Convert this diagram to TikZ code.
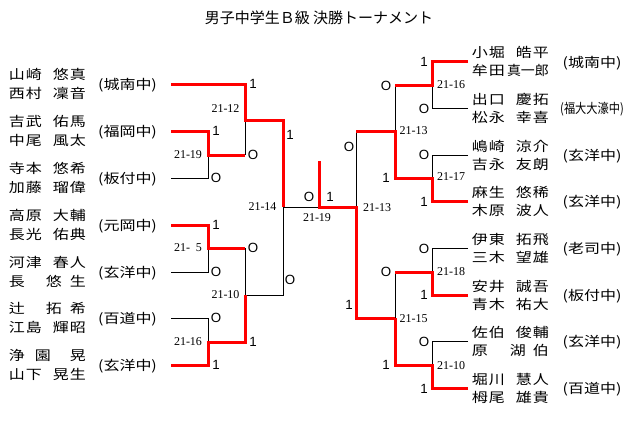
\documentclass[tikz,border=0pt]{standalone}
\usepackage{fontspec}
\usepackage{graphicx}
\setmainfont{Liberation Sans}
\newfontfamily\jpfont{Noto Sans CJK JP}
\newfontfamily\jpwide[FakeStretch=1.2]{Noto Sans CJK JP}
\newfontfamily\serfont{Liberation Serif}
\newlength\px \setlength\px{0.75pt}
\newcommand\at[2]{\makebox[0pt][l]{\hspace*{#1\px}\makebox[0pt][c]{#2}}}
\newcommand\four[4]{\at{16}{#1}\at{33}{#2}\at{60}{#3}\at{77}{#4}}
\newcommand\namefont{\jpwide\fontsize{10pt}{12pt}\selectfont}
\newcommand\resfont{\fontsize{10pt}{12pt}\selectfont}
\newcommand\scorefont{\serfont\fontsize{9pt}{10pt}\selectfont}
\newcommand\titlefont{\jpfont\fontsize{11.25pt}{13pt}\selectfont}
\begin{document}
\begin{tikzpicture}[x=0.75pt,y=-0.75pt,
  win/.style={draw=red,line width=2.25pt},
  lose/.style={draw=black,line width=0.75pt},
  nm/.style={anchor=west,inner sep=0pt,font=\namefont,text height=8.8pt,text depth=1.2pt},
  school/.style={inner sep=0pt,font=\namefont,text height=8.8pt,text depth=1.2pt},
  res/.style={inner sep=0pt,font=\resfont},
  score/.style={inner sep=0pt,font=\scorefont},
  ttl/.style={inner sep=0pt,font=\titlefont,text height=9.9pt,text depth=1.35pt}]
\useasboundingbox[fill=white] (0,0) rectangle (640,437);

\node[ttl] (title) at (319,18) {男子中学生Ｂ級 決勝トーナメント};

% ---------- left names ----------
\node[nm] (n1a) at (0,74.7) {\four{山}{崎}{悠}{真}};
\node[nm] (n1b) at (0,93.3) {\four{西}{村}{凜}{音}};
\node[nm] (n2a) at (0,121.7) {\four{吉}{武}{佑}{馬}};
\node[nm] (n2b) at (0,140.3) {\four{中}{尾}{風}{太}};
\node[nm] (n3a) at (0,168.7) {\four{寺}{本}{悠}{希}};
\node[nm] (n3b) at (0,187.3) {\four{加}{藤}{瑠}{偉}};
\node[nm] (n4a) at (0,215.7) {\four{高}{原}{大}{輔}};
\node[nm] (n4b) at (0,234.3) {\four{長}{光}{佑}{典}};
\node[nm] (n5a) at (0,262.7) {\four{河}{津}{春}{人}};
\node[nm] (n5b) at (0,281.3) {\at{16}{長}\at{53}{悠}\at{77}{生}};
\node[nm] (n6a) at (0,308.7) {\at{16}{辻}\at{53}{拓}\at{77}{希}};
\node[nm] (n6b) at (0,327.3) {\four{江}{島}{輝}{昭}};
\node[nm] (n7a) at (0,355.7) {\at{16}{浄}\at{42}{園}\at{77}{晃}};
\node[nm] (n7b) at (0,374.3) {\four{山}{下}{晃}{生}};

\node[school] (s1) at (127.5,84) {(城南中)};
\node[school] (s2) at (127.5,131) {(福岡中)};
\node[school] (s3) at (127.5,178) {(板付中)};
\node[school] (s4) at (127.5,225) {(元岡中)};
\node[school] (s5) at (127.5,272) {(玄洋中)};
\node[school] (s6) at (127.5,318) {(百道中)};
\node[school] (s7) at (127.5,365) {(玄洋中)};

% ---------- right names ----------
\node[nm] (m1a) at (463,52.5) {\four{小}{堀}{皓}{平}};
\node[nm] (m1b) at (463,70.5) {\at{16}{牟}\at{33}{田}\at{64}{\scalebox{0.87}[1]{真一郎}}};
\node[nm] (m2a) at (463,99.5) {\four{出}{口}{慶}{拓}};
\node[nm] (m2b) at (463,117.5) {\four{松}{永}{幸}{喜}};
\node[nm] (m3a) at (463,146) {\four{嶋}{崎}{涼}{介}};
\node[nm] (m3b) at (463,164) {\four{吉}{永}{友}{朗}};
\node[nm] (m4a) at (463,192.5) {\four{麻}{生}{悠}{稀}};
\node[nm] (m4b) at (463,210.5) {\four{木}{原}{波}{人}};
\node[nm] (m5a) at (463,239.5) {\four{伊}{東}{拓}{飛}};
\node[nm] (m5b) at (463,257.5) {\four{三}{木}{望}{雄}};
\node[nm] (m6a) at (463,286) {\four{安}{井}{誠}{吾}};
\node[nm] (m6b) at (463,304) {\four{青}{木}{祐}{大}};
\node[nm] (m7a) at (463,332.5) {\four{佐}{伯}{俊}{輔}};
\node[nm] (m7b) at (463,350.5) {\at{16}{原}\at{54}{湖}\at{77}{伯}};
\node[nm] (m8a) at (463,379.5) {\four{堀}{川}{慧}{人}};
\node[nm] (m8b) at (463,397.5) {\four{栂}{尾}{雄}{貴}};

\node[school] (t1) at (592,62) {(城南中)};
\node[school] (t2) at (592,108.5) {\scalebox{0.7}[1]{(福大大濠中)}};
\node[school] (t3) at (592,155) {(玄洋中)};
\node[school] (t4) at (592,201.5) {(玄洋中)};
\node[school] (t5) at (592,248.5) {(老司中)};
\node[school] (t6) at (592,295) {(板付中)};
\node[school] (t7) at (592,341.5) {(玄洋中)};
\node[school] (t8) at (592,388.5) {(百道中)};

% ---------- bracket points ----------
\coordinate (L1) at (171,84);
\coordinate (L2) at (171,131);
\coordinate (L3) at (171,178);
\coordinate (L4) at (171,225);
\coordinate (L5) at (171,272);
\coordinate (L6) at (171,318);
\coordinate (L7) at (171,365);
\coordinate (R1) at (468,61.5);
\coordinate (R2) at (468,108.5);
\coordinate (R3) at (468,155);
\coordinate (R4) at (468,201.5);
\coordinate (R5) at (468,248.5);
\coordinate (R6) at (468,295);
\coordinate (R7) at (468,341.5);
\coordinate (R8) at (468,388.5);
\coordinate (ma) at (208,155);
\coordinate (mb) at (245,120);
\coordinate (mc) at (208,248);
\coordinate (md) at (208,342);
\coordinate (me) at (245,295);
\coordinate (mf) at (283,207);
\coordinate (fz) at (319,207);
\coordinate (champ) at (319,161);
\coordinate (mg) at (356,207);
\coordinate (mh) at (395,131);
\coordinate (mi) at (432,85.5);
\coordinate (mj) at (432,178);
\coordinate (mk) at (395,318);
\coordinate (ml) at (432,272);
\coordinate (mm) at (432,365);

% losers (black)
\draw[lose] (L3) -| (ma);
\draw[lose] (ma -| mb) -- (mb);
\draw[lose] (L5) -| (mc);
\draw[lose] (mc -| me) -- (me);
\draw[lose] (L6) -| (md);
\draw[lose] (me) -- (me -| mf) -- (mf) -- (fz);
\draw[lose] (R2) -| (mi);
\draw[lose] (mi -| mh) -- (mh);
\draw[lose] (R3) -| (mj);
\draw[lose] (mh -| mg) -- (mg);
\draw[lose] (R5) -| (ml);
\draw[lose] (ml -| mk) -- (mk);
\draw[lose] (R7) -| (mm);

% winners (red)
\draw[win] (L2) -| (ma) -- (ma -| mb);
\draw[win] (L1) -| (mb) -- (mb -| mf) -- (mf);
\draw[win] (L4) -| (mc) -- (mc -| me);
\draw[win] (L7) -| (md) -- (md -| me) -- (me);
\draw[win] (champ) -- (fz) -- (mg) -- (mg |- mk) -- (mk);
\draw[win] (R1) -| (mi) -- (mi -| mh);
\draw[win] (R4) -| (mj) -- (mj -| mh) -- (mh) -- (mh -| mg);
\draw[win] (R6) -| (ml) -- (ml -| mk);
\draw[win] (R8) -| (mm) -- (mm -| mk) -- (mk);

% ---------- results ----------
\node[res] (a1) at (216,131) {1};
\node[res] (a2) at (216,178) {O};
\node[res] (b1) at (253,84) {1};
\node[res] (b2) at (253,155) {O};
\node[res] (c1) at (216,225) {1};
\node[res] (c2) at (216,272) {O};
\node[res] (d1) at (216,318) {O};
\node[res] (d2) at (216,365) {1};
\node[res] (e1) at (253,248) {O};
\node[res] (e2) at (253,342) {1};
\node[res] (f1) at (290,135) {1};
\node[res] (f2) at (290,280) {O};
\node[res] (z1) at (309,197) {O};
\node[res] (z2) at (330,197) {1};
\node[res] (i1) at (424,61.5) {1};
\node[res] (i2) at (424,108.5) {O};
\node[res] (j1) at (424,155) {O};
\node[res] (j2) at (424,201.5) {1};
\node[res] (h1) at (386,85.5) {O};
\node[res] (h2) at (386,178) {1};
\node[res] (g1) at (349,147) {O};
\node[res] (g2) at (349,305) {1};
\node[res] (l1) at (424,248.5) {O};
\node[res] (l2) at (424,295) {1};
\node[res] (o1) at (424,341.5) {O};
\node[res] (o2) at (424,388.5) {1};
\node[res] (k1) at (386,272) {O};
\node[res] (k2) at (386,365) {1};

% ---------- scores ----------
\node[score] (sa) at (188,155) {21-19};
\node[score] (sb) at (225.5,109) {21-12};
\node[score] (sc) at (188,248) {21-\hphantom{0}5};
\node[score] (sd) at (188,342) {21-16};
\node[score] (se) at (225.5,295) {21-10};
\node[score] (sf) at (262.5,207) {21-14};
\node[score] (sz) at (317,218) {21-19};
\node[score] (si) at (451,85) {21-16};
\node[score] (sj) at (451,177) {21-17};
\node[score] (sh) at (413.5,131) {21-13};
\node[score] (sg) at (377,207.5) {21-13};
\node[score] (sl) at (451,272) {21-18};
\node[score] (sk) at (413.5,318.5) {21-15};
\node[score] (sm) at (451,365.5) {21-10};
\end{tikzpicture}
\end{document}
